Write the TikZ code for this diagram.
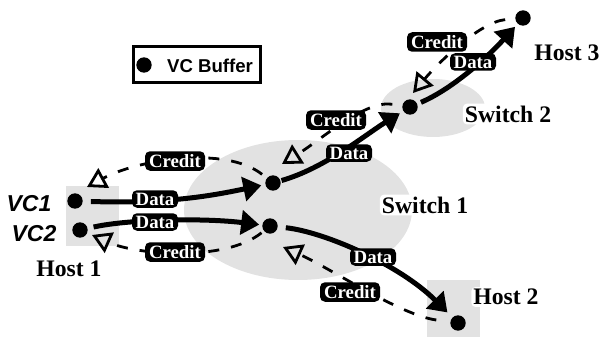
\documentclass[tikz,border=0pt]{standalone}
\usepackage{fontspec}
\setmainfont{Liberation Serif}
\setsansfont{Liberation Sans}
\usetikzlibrary{arrows.meta,shapes.geometric}
\definecolor{regiongray}{HTML}{E2E2E2}
\tikzset{
  region/.style={fill=regiongray,draw=none},
  buffer/.style={circle,fill=black,draw=none,inner sep=0pt,minimum size=15.4pt},
  datalink/.style={line width=5pt,-{Triangle[length=18pt,width=24pt]}},
  creditlink/.style={line width=2.8pt,dash pattern=on 11pt off 12pt,-{Triangle[open,length=19pt,width=22pt,line width=2.8pt]}},
  pill/.style={fill=black,text=white,rounded corners=5pt,inner sep=0pt,font=\bfseries\fontsize{18.8}{18.8}\selectfont},
  datapill/.style={pill,minimum width=46pt,minimum height=17.5pt},
  creditpill/.style={pill,minimum width=60pt,minimum height=19.5pt},
  place/.style={fill=white,rounded corners=4pt,inner sep=2pt,font=\bfseries\fontsize{23.7}{23.7}\selectfont},
  vclabel/.style={font=\sffamily\bfseries\itshape\fontsize{23}{23}\selectfont,inner sep=0pt},
}
\begin{document}
\begin{tikzpicture}[x=1pt,y=-1pt]
\useasboundingbox (0,0) rectangle (600,337);
% regions
\fill[region] (298,210) ellipse [x radius=114,y radius=70];
\fill[region] (433,108) ellipse [x radius=52,y radius=29];
\fill[region] (66,186) rectangle (119,246);
\fill[region] (427,280) rectangle (480,337);
% place labels
\node[place] (sw1) at (425,205) {Switch 1};
\node[place] (sw2) at (508,114) {Switch 2};
\node[place,fill=none] (h1) at (69,269) {Host 1};
\node[place] (h2lab) at (506,297) {Host 2};
\node[place,fill=none] (h3lab) at (567,53) {Host 3};
\node[vclabel] (vc1lab) at (29,204) {VC1};
\node[vclabel] (vc2lab) at (34,234) {VC2};
% buffers
\node[buffer] (vc1) at (75,201) {};
\node[buffer] (vc2) at (80,230) {};
\node[buffer] (s1a) at (273,183) {};
\node[buffer] (s1b) at (270,226) {};
\node[buffer] (s2) at (410,107) {};
\node[buffer] (h3) at (523,18) {};
\node[buffer] (h2) at (458,323) {};
% credit arrow ends, just short of the buffers
\coordinate (t1) at (87,187);
\coordinate (t2) at (92,235);
\coordinate (t3) at (282,164);
\coordinate (t4) at (413,93);
\coordinate (t5) at (283,247);
% data links
\draw[datalink,shorten <=8pt,shorten >=4pt] (vc1) .. controls (170,204) and (215,195) .. (s1a);
\draw[datalink,shorten <=6pt,shorten >=3pt] (vc2) .. controls (130,219) and (205,218) .. (s1b);
\draw[datalink,shorten <=1pt,shorten >=4pt] (s1a) .. controls (325,168) and (365,135) .. (s2);
\draw[datalink,shorten <=4pt,shorten >=4pt] (s2) .. controls (450,90) and (485,60) .. (h3);
\draw[datalink,shorten <=8pt,shorten >=7pt] (s1b) .. controls (325,232) and (400,265) .. (h2);
% credit links
\draw[creditlink,shorten <=6pt] (s1a) .. controls (225,145) and (137,160) .. (t1);
\draw[creditlink,shorten <=3pt] (s1b) .. controls (225,262) and (137,255) .. (t2);
\draw[creditlink,shorten <=10pt] (s2) .. controls (365,100) and (322,139) .. (t3);
\draw[creditlink,shorten <=10pt] (h3) .. controls (480,22) and (438,63) .. (t4);
\draw[creditlink,shorten <=14pt] (h2) .. controls (400,315) and (330,268) .. (t5);
% pills
\node[datapill] (d1) at (155,199) {Data};
\node[datapill] (d2) at (155,222) {Data};
\node[datapill] (d3) at (349,153) {Data};
\node[datapill] (d4) at (473,62) {Data};
\node[datapill] (d5) at (373,257) {Data};
\node[creditpill] (c1) at (175,161) {Credit};
\node[creditpill] (c2) at (175,252) {Credit};
\node[creditpill] (c3) at (336,120) {Credit};
\node[creditpill] (c4) at (437,42) {Credit};
\node[creditpill] (c5) at (350,292) {Credit};
% legend
\draw[line width=3pt] (133,47) rectangle (260,83);
\node[buffer] (legdot) at (144,65) {};
\node[anchor=west,inner sep=0pt,font=\sffamily\bfseries\fontsize{18.6}{18.6}\selectfont] (legtext) at (167,66) {VC Buffer};
\end{tikzpicture}
\end{document}
